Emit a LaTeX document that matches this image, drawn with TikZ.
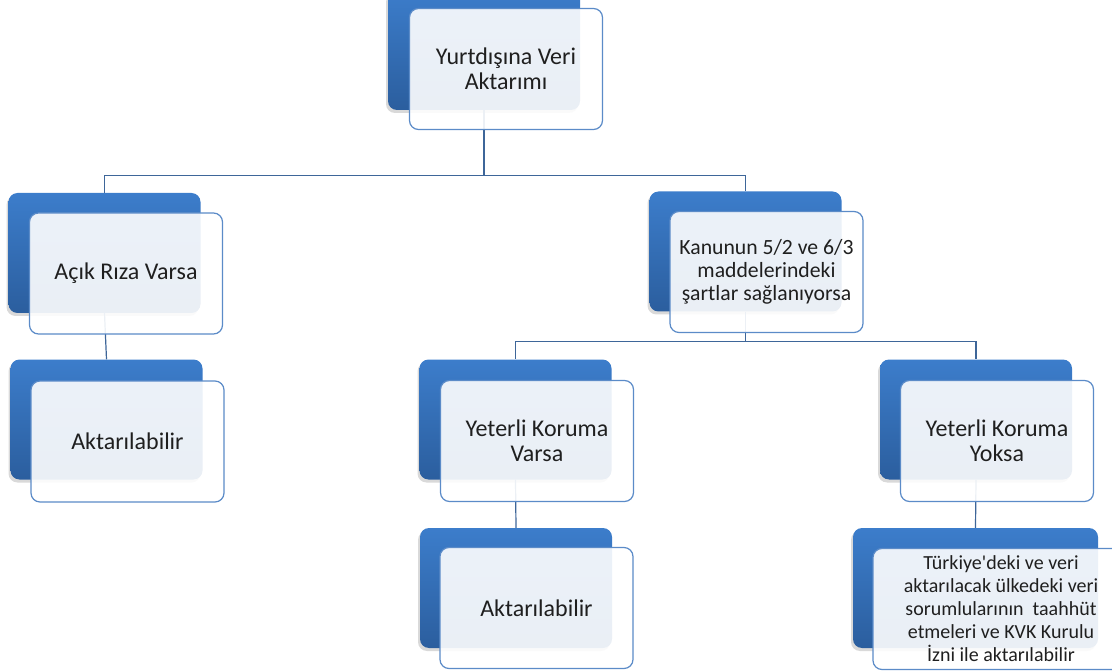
\documentclass[tikz,border=0pt]{standalone}
\usepackage{fontspec}
\setmainfont{Carlito}[Ligatures=TeXOff]
\usetikzlibrary{shadows}
\definecolor{boxtop}{HTML}{3C7DCB}
\definecolor{boxbot}{HTML}{2B5E9E}
\definecolor{boxline}{HTML}{5B8BC8}
\definecolor{linkline}{HTML}{3E6699}

\begin{document}
\begin{tikzpicture}[x=1pt,y=-1pt,font=\fontsize{24}{25}\selectfont]
	
	% Styles for the two layers of each box
	\tikzset{
		backbox/.style={rectangle,rounded corners=9pt,minimum width=192pt,minimum height=120pt,
			top color=boxtop,bottom color=boxbot,
			drop shadow={shadow xshift=-2pt,shadow yshift=-3pt,opacity=0.3}},
		frontbox/.style={rectangle,rounded corners=9pt,minimum width=193pt,minimum height=121pt,
			draw=boxline,line width=1.2pt,fill=white,fill opacity=0.9,text opacity=1,
			align=center,text=black!88},
		link/.style={draw=linkline,line width=1.2pt}
	}
	
	\useasboundingbox (0,0) rectangle (1112,671);
	
	%========================================
	% Back (blue) boxes
	%========================================
	\node[backbox] (rootB) at (484,50) {};
	\node[backbox] (rizaB) at (104.5,253) {};
	\node[backbox] (akt1B) at (106.5,419.5) {};
	\node[backbox] (kanunB) at (745.5,251.5) {};
	\node[backbox] (varB) at (515.5,419.5) {};
	\node[backbox] (yokB) at (976,419.5) {};
	\node[backbox] (akt2B) at (516,588) {};
	\node[backbox,minimum width=245pt] (izinB) at (975.5,588) {};
	
	%========================================
	% Connectors
	%========================================
	\draw[link] (rootB.south) -- ++(0,65) -| (rizaB.north);
	\draw[link] (rootB.south) -- ++(0,65) -| (kanunB.north);
	\draw[link] (rizaB.south) -- (akt1B.north);
	\draw[link] (kanunB.south) -- ++(0,30) -| (varB.north);
	\draw[link] (kanunB.south) -- ++(0,30) -| (yokB.north);
	\draw[link] (varB.south) -- (akt2B.north);
	\draw[link] (yokB.south) -- (izinB.north);
	
	%========================================
	% Front (white) boxes with the texts
	%========================================
	\node[frontbox,font=\fontsize{24}{24.5}\selectfont] (rootF) at (506,69) {Yurtdışına Veri\\Aktarımı};
	\node[frontbox] (rizaF) at (126,273.5) {Açık Rıza Varsa};
	\node[frontbox] (akt1F) at (127.5,441.5) {Aktarılabilir};
	\node[frontbox,font=\fontsize{21.7}{23}\selectfont] (kanunF) at (766.5,272) {Kanunun 5/2 ve 6/3\\maddelerindeki\\şartlar sağlanıyorsa};
	\node[frontbox] (varF) at (537,441) {Yeterli Koruma\\Varsa};
	\node[frontbox] (yokF) at (997,441) {Yeterli Koruma\\Yoksa};
	\node[frontbox] (akt2F) at (536.5,608) {Aktarılabilir};
	\node[frontbox,minimum width=256pt,font=\fontsize{20}{23}\selectfont] (izinF) at (1001,609) {Türkiye'deki ve veri\\aktarılacak ülkedeki veri\\sorumlularının\ \ taahhüt\\etmeleri ve KVK Kurulu\\İzni ile aktarılabilir};
	
\end{tikzpicture}
\end{document}
